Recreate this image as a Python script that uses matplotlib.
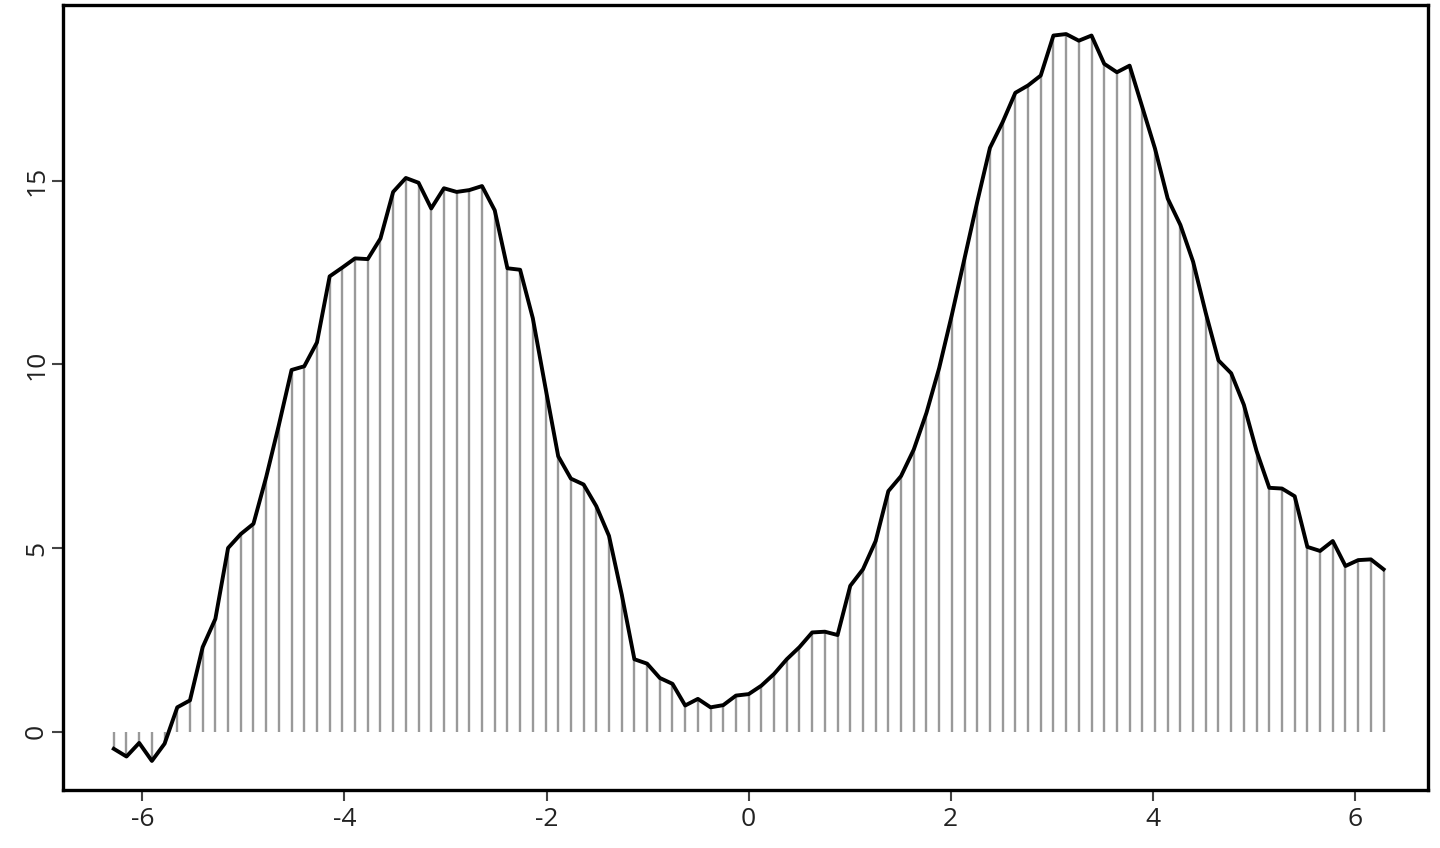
import numpy as np
import matplotlib
matplotlib.use("Agg")
import matplotlib.pyplot as plt

plt.rcParams['font.family'] = ['Open Sans', 'DejaVu Sans']

# 101 points from -2*pi to 2*pi
n_points = 101
x = np.linspace(-2 * np.pi, 2 * np.pi, n_points)
y = [
    -0.47, -0.68, -0.31, -0.80, -0.33, 0.66, 0.85, 2.30, 3.07, 5.00,
    5.38, 5.66, 6.93, 8.35, 9.85, 9.95, 10.60, 12.40, 12.64, 12.89,
    12.87, 13.43, 14.70, 15.08, 14.95, 14.25, 14.80, 14.70, 14.75, 14.86,
    14.20, 12.62, 12.58, 11.26, 9.36, 7.50, 6.89, 6.73, 6.14, 5.33,
    3.74, 1.97, 1.85, 1.46, 1.30, 0.71, 0.89, 0.66, 0.72, 0.98,
    1.02, 1.25, 1.57, 1.97, 2.30, 2.70, 2.72, 2.63, 3.97, 4.42,
    5.19, 6.55, 6.96, 7.68, 8.68, 9.90, 11.35, 12.89, 14.43, 15.90,
    16.60, 17.40, 17.60, 17.87, 18.96, 19.00, 18.82, 18.96, 18.19, 17.96,
    18.14, 17.01, 15.88, 14.52, 13.80, 12.80, 11.40, 10.11, 9.76, 8.90,
    7.64, 6.64, 6.62, 6.41, 5.03, 4.92, 5.19, 4.51, 4.67, 4.69,
    4.42,
]
xticks = [-6, -4, -2, 0, 2, 4, 6]
yticks = [0, 5, 10, 15]

fig = plt.figure(figsize=(14.4, 8.48), dpi=100)
ax = fig.add_axes([63 / 1440, 58 / 848, (1428 - 63) / 1440, 785 / 848])

ax.vlines(x, 0, y, color='#999999', linewidth=1.7)
ax.plot(x, y, color='black', linewidth=2.8, solid_joinstyle='round')

# R-style 4% padding
xr = x.max() - x.min()
ax.set_xlim(x.min() - 0.04 * xr, x.max() + 0.035 * xr)
yr = max(y) - min(y)
ax.set_ylim(min(y) - 0.04 * yr, max(y) + 0.04 * yr)

ax.set_xticks(xticks)
ax.set_xticklabels([str(t) for t in xticks])
ax.set_yticks(yticks)
ax.set_yticklabels([str(t) for t in yticks], rotation=90, va='center')

ax.tick_params(axis='both', direction='out', length=8, width=1.5,
               color='#444444', labelsize=19, labelcolor='#222222')
ax.tick_params(axis='x', pad=4)
ax.tick_params(axis='y', pad=2)
for s in ax.spines.values():
    s.set_linewidth(2.4)
    s.set_color('black')

fig.savefig('out.png', dpi=100)
